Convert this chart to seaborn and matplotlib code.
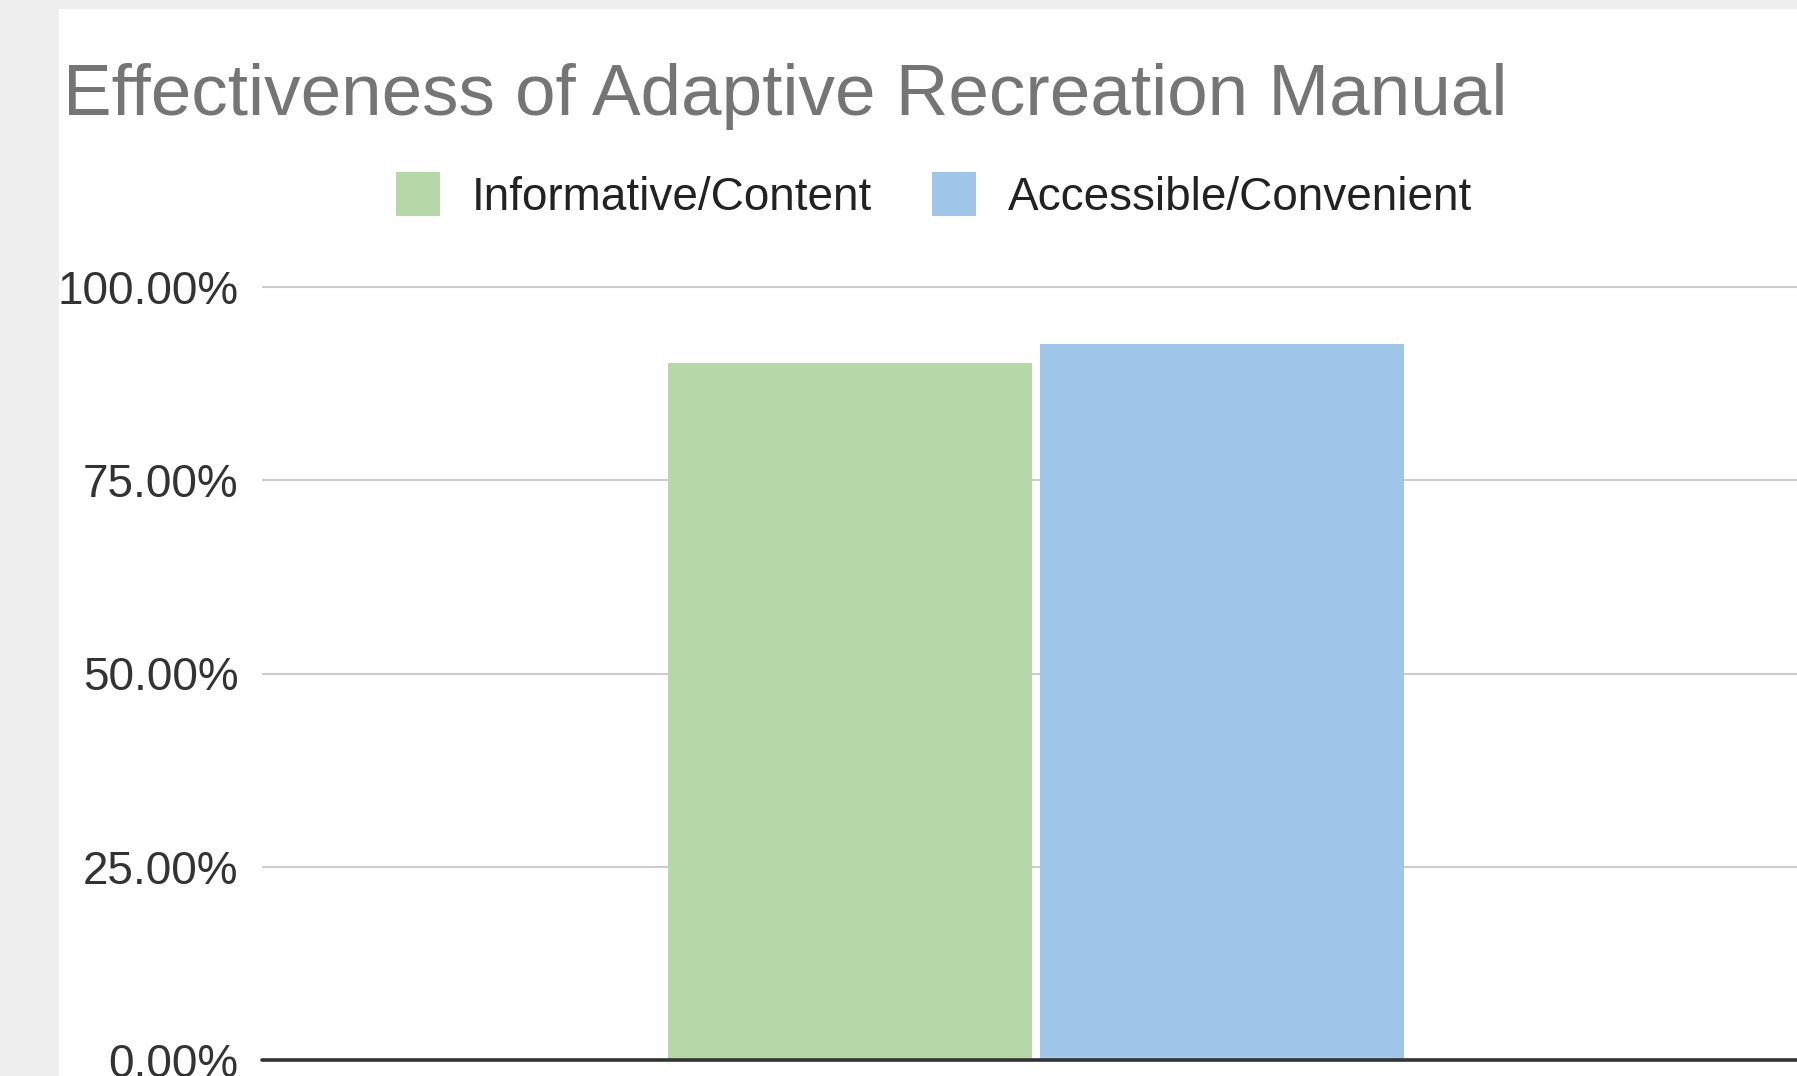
import matplotlib
matplotlib.use("Agg")
import matplotlib.pyplot as plt
import seaborn as sns
import pandas as pd
from matplotlib.patches import Rectangle

# Survey results: share of respondents agreeing with each statement
categories = ["Adaptive Recreation Manual"]
series = ["Informative/Content", "Accessible/Convenient"]
values = [90.2, 92.6]
colors = ["#b6d7a8", "#9fc5e8"]
yticks = [0, 25, 50, 75, 100]
ytick_labels = [f"{v:.2f}%" for v in yticks]

df = pd.DataFrame({
    "category": categories * len(series),
    "series": series,
    "value": values,
})

sns.set_theme(style="white")
plt.rcParams["font.family"] = ["Liberation Sans", "DejaVu Sans"]

W, H, DPI = 1797, 1076, 100
fig = plt.figure(figsize=(W / DPI, H / DPI), dpi=DPI, facecolor="#eeeeee")
# white chart card on the gray page
fig.patches.append(Rectangle((59 / W, 0), 1, 1 - 9 / H, transform=fig.transFigure,
                             facecolor="white", edgecolor="none", zorder=-5))

ytop = 105
plot_px = 773
ax = fig.add_axes([262 / W, 16 / H, (1810 - 262) / W, plot_px * ytop / 100 / H])
ax.set_facecolor("none")
ax.set_zorder(1)

sns.barplot(data=df, x="category", y="value", hue="series", hue_order=series,
            palette=colors, width=0.48, gap=0.02, saturation=1,
            linewidth=0, ax=ax, zorder=2)

ax.set_xlim(-0.5, 0.5)
ax.set_ylim(0, ytop)
ax.set_yticks(yticks)
ax.set_yticklabels(ytick_labels)
ax.set_xticks([])
ax.set_xlabel("")
ax.set_ylabel("")
for s in ax.spines.values():
    s.set_visible(False)
ax.yaxis.grid(True, color="#cccccc", linewidth=1.5)
ax.set_axisbelow(True)
ax.axhline(0, color="#333333", linewidth=2.6, zorder=3, clip_on=False)
ax.tick_params(axis="y", length=0, pad=17, labelsize=33, labelcolor="#333333")

sns.move_legend(ax, "center", bbox_to_anchor=(934 / W, 1 - 196 / H),
                bbox_transform=fig.transFigure, ncol=2, frameon=False, title=None,
                fontsize=33, handlelength=0.96, handleheight=1.1,
                handletextpad=0.7, columnspacing=1.3, borderpad=0, borderaxespad=0)
for t in ax.get_legend().get_texts():
    t.set_color("#222222")

fig.text(63 / W, 1 - 115 / H, "Effectiveness of Adaptive Recreation Manual",
         fontsize=52.5, color="#757575", ha="left", va="baseline")

fig.savefig("out.png", dpi=DPI, facecolor=fig.get_facecolor())
